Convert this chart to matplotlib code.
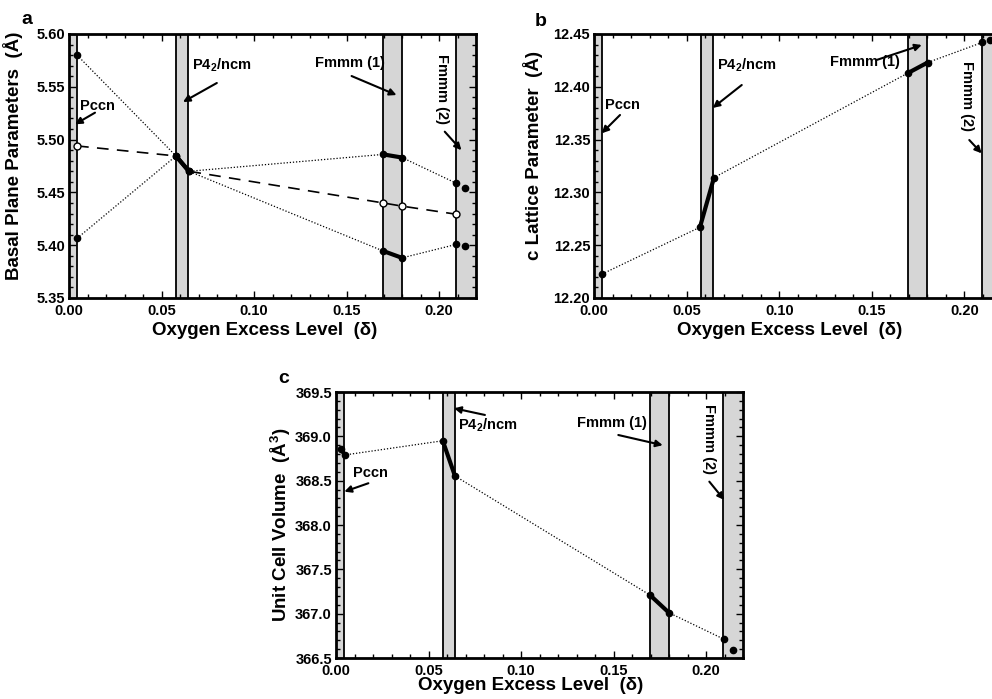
import matplotlib
matplotlib.use('Agg')
import matplotlib.pyplot as plt
from matplotlib.ticker import MultipleLocator, FormatStrFormatter

plt.rcParams['font.family'] = ['Liberation Sans', 'DejaVu Sans']
plt.rcParams['font.weight'] = 'bold'
plt.rcParams['mathtext.fontset'] = 'custom'
plt.rcParams['mathtext.rm'] = 'Liberation Sans:bold'
plt.rcParams['mathtext.it'] = 'Liberation Sans:bold'
plt.rcParams['mathtext.bf'] = 'Liberation Sans:bold'

# phase regions (oxygen excess delta)
phase_lo = [0.0, 0.0576, 0.1698, 0.2094]
phase_hi = [0.0042, 0.0643, 0.1800, 0.2200]

# a: basal plane parameters
delta_a = [0.0042, 0.0577, 0.0647, 0.1698, 0.1800, 0.2094]
a_down = [5.580, 5.4845, 5.470, 5.3945, 5.388, 5.4008]
a_up = [5.4065, 5.4845, 5.470, 5.486, 5.483, 5.4586]
a_mean = [5.494, 5.4845, 5.470, 5.440, 5.437, 5.4293]
delta_a_extra = [0.2139, 0.2139]
a_extra = [5.4545, 5.3992]

# b: c lattice parameter
delta_b = [0.0042, 0.0571, 0.0647, 0.1695, 0.1802, 0.2097]
c_param = [12.2227, 12.267, 12.314, 12.413, 12.423, 12.442]
delta_b_extra = [0.2139]
c_extra = [12.444]

# c: unit cell volume
delta_c = [0.0025, 0.0048, 0.0577, 0.0643, 0.1697, 0.1800, 0.2099]
volume = [368.86, 368.79, 368.95, 368.553, 367.21, 367.01, 366.71]
delta_c_extra = [0.2144]
vol_extra = [366.59]

W, H = 992, 699
fig = plt.figure(figsize=(W / 100, H / 100), dpi=100)


def px_axes(x0, y0, x1, y1):
    return fig.add_axes([x0 / W, 1 - y1 / H, (x1 - x0) / W, (y1 - y0) / H])


def setup(ax, ylo, yhi, ymaj, ymin, yfmt, ylabel, letter, letter_xy):
    ax.set_xlim(0, 0.22)
    ax.set_ylim(ylo, yhi)
    ax.xaxis.set_major_locator(MultipleLocator(0.05))
    ax.xaxis.set_minor_locator(MultipleLocator(0.01))
    ax.yaxis.set_major_locator(MultipleLocator(ymaj))
    ax.yaxis.set_minor_locator(MultipleLocator(ymin))
    ax.xaxis.set_major_formatter(FormatStrFormatter('%.2f'))
    ax.yaxis.set_major_formatter(FormatStrFormatter(yfmt))
    ax.tick_params(which='both', direction='in', top=True, right=True,
                   labelsize=10.5, width=1)
    ax.tick_params(which='major', length=5, pad=3)
    ax.tick_params(axis='x', which='major', pad=4.5)
    ax.tick_params(which='minor', length=3)
    for s in ax.spines.values():
        s.set_linewidth(2)
    for lo, hi in zip(phase_lo, phase_hi):
        ax.axvspan(lo, hi, facecolor='#d6d6d6', lw=0, zorder=0)
        if lo > 0:
            ax.axvline(lo, color='k', lw=1.3, zorder=1)
        if hi < 0.22:
            ax.axvline(hi, color='k', lw=1.3, zorder=1)
    ax.set_xlabel('Oxygen Excess Level  (\u03b4)', fontsize=13.5, fontweight='bold')
    ax.set_ylabel(ylabel, fontsize=13.5, fontweight='bold')
    fig.text(letter_xy[0] / W, 1 - letter_xy[1] / H, letter, fontsize=14,
             fontweight='bold', ha='center', va='center')


def series(ax, x, y, pairs, ls=(0, (1, 1.5)), lw=0.9):
    ax.plot(x, y, color='k', lw=lw, ls=ls, zorder=3)
    for i, j in pairs:
        ax.plot([x[i], x[j]], [y[i], y[j]], color='k', lw=3, zorder=4,
                solid_capstyle='round')
    ax.plot(x, y, 'o', color='k', ms=4.5, zorder=5)


def label(ax, text, txt_xy, tail, tip, rot=0):
    if rot:
        ax.text(txt_xy[0], txt_xy[1], text, fontsize=10.5, fontweight='bold',
                rotation=rot, ha='center', va='center', zorder=6)
    else:
        ax.text(txt_xy[0], txt_xy[1], text, fontsize=10.5, fontweight='bold',
                ha='left', va='center', zorder=6)
    ax.annotate('', xy=tip, xytext=tail,
                arrowprops=dict(arrowstyle='-|>', color='k', lw=1.5,
                                mutation_scale=10, shrinkA=0, shrinkB=0),
                zorder=6)


# panel a
ax1 = px_axes(69.3, 34, 476, 298)
setup(ax1, 5.35, 5.60, 0.05, 0.01, '%.2f', 'Basal Plane Parameters  (\u00c5)', 'a', (27, 20))
ax1.yaxis.set_label_coords(-0.114, 0.54)
ax1.xaxis.set_label_coords(0.48, -0.09)
series(ax1, delta_a, a_down, [(1, 2), (3, 4)])
series(ax1, delta_a, a_up, [(1, 2), (3, 4)])
ax1.plot(delta_a, a_mean, color='k', lw=1.2, ls=(0, (7, 5)), zorder=3)
open_idx = [0, 3, 4, 5]
ax1.plot([delta_a[i] for i in open_idx], [a_mean[i] for i in open_idx], 'o',
         mfc='white', mec='k', mew=1, ms=5, zorder=5)
ax1.plot(delta_a_extra, a_extra, 'o', color='k', ms=4.5, zorder=5)
label(ax1, 'Pccn', (0.0058, 5.532), (0.0139, 5.5255), (0.0031, 5.5145))
label(ax1, 'P4$_2$/ncm', (0.0663, 5.5706), (0.0798, 5.5536), (0.0615, 5.5356))
label(ax1, 'Fmmm (1)', (0.1328, 5.5725), (0.1527, 5.5602), (0.177, 5.5422))
label(ax1, 'Fmmm (2)', (0.2015, 5.548), (0.2031, 5.5075), (0.2121, 5.490), rot=270)

# panel b
ax2 = px_axes(594.3, 34, 1001.3, 298)
setup(ax2, 12.20, 12.45, 0.05, 0.01, '%.2f', 'c Lattice Parameter  (\u00c5)', 'b', (541, 22))
ax2.yaxis.set_label_coords(-0.126, 0.54)
ax2.xaxis.set_label_coords(0.48, -0.09)
series(ax2, delta_b, c_param, [(1, 2), (3, 4)])
ax2.plot(delta_b_extra, c_extra, 'o', color='k', ms=4.5, zorder=5)
label(ax2, 'Pccn', (0.0058, 12.3828), (0.0139, 12.3733), (0.004, 12.356))
label(ax2, 'P4$_2$/ncm', (0.0663, 12.4206), (0.0797, 12.4017), (0.064, 12.380))
label(ax2, 'Fmmm (1)', (0.1274, 12.4235), (0.1526, 12.4254), (0.177, 12.4396))
label(ax2, 'Fmmm (2)', (0.2017, 12.391), (0.2027, 12.3496), (0.2094, 12.337), rot=270)

# panel c
ax3 = px_axes(336, 392, 743, 658)
setup(ax3, 366.5, 369.5, 0.5, 0.1, '%.1f', 'Unit Cell Volume  (\u00c5$^3$)', 'c', (284, 378))
ax3.yaxis.set_label_coords(-0.106, 0.5)
ax3.xaxis.set_label_coords(0.477, -0.07)
series(ax3, delta_c, volume, [(0, 1), (2, 3), (4, 5)])
ax3.plot(delta_c_extra, vol_extra, 'o', color='k', ms=4.5, zorder=5)
label(ax3, 'Pccn', (0.0092, 368.587), (0.0175, 368.471), (0.0045, 368.376))
label(ax3, 'P4$_2$/ncm', (0.066, 369.128), (0.0805, 369.241), (0.0638, 369.316))
label(ax3, 'Fmmm (1)', (0.1301, 369.15), (0.1526, 369.015), (0.1766, 368.90))
label(ax3, 'Fmmm (2)', (0.2016, 368.97), (0.2018, 368.489), (0.2099, 368.282), rot=270)

fig.savefig('out.png', dpi=100)
